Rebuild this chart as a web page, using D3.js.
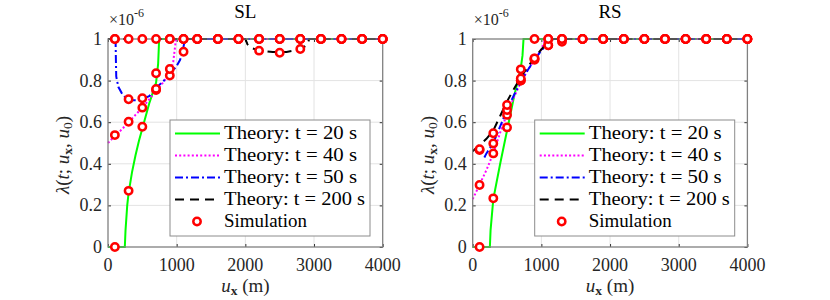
<!DOCTYPE html>
<html>
<head>
<meta charset="utf-8">
<script src="https://cdn.jsdelivr.net/npm/d3@7"></script>
<style>
  body { margin: 0; background: #fff; }
</style>
</head>
<body>
<script>
// values are in units of 1e-6
const uSim = [100, 300, 500, 700, 900, 1100, 1300, 1600, 1900, 2200, 2500, 2800, 3100, 3400, 3700, 4000];

// SL panel
const slSim20  = [0, 0.27, 0.578, 0.835, 1, 1, 1, 1, 1, 1, 1, 1, 1, 1, 1, 1];
const slSim40  = [0.538, 0.602, 0.67, 0.755, 0.824, 1, 1, 1, 1, 1, 1, 1, 1, 1, 1, 1];
const slSim50  = [1, 0.71, 0.715, 0.76, 0.856, 0.939, 1, 1, 1, 1, 1, 1, 1, 1, 1, 1];
const slSim200 = [1, 1, 1, 1, 1, 1, 1, 1, 1, 0.944, 0.934, 0.952, 1, 1, 1, 1];

const slU20  = [0, 245, 255, 280, 300, 350, 400, 450, 500, 550, 600, 650, 700, 730, 745, 4000];
const slL20  = [0, 0, 0.08, 0.2, 0.26, 0.36, 0.44, 0.51, 0.57, 0.63, 0.69, 0.74, 0.79, 0.88, 1, 1];
const slU40  = [0, 100, 200, 300, 400, 500, 600, 700, 800, 900, 950, 990, 4000];
const slL40  = [0.5, 0.535, 0.565, 0.6, 0.635, 0.67, 0.71, 0.75, 0.79, 0.835, 0.89, 1, 1];
const slU50  = [110, 115, 120, 150, 200, 250, 320, 450, 600, 700, 800, 900, 1000, 1050, 1090, 1120, 4000];
const slL50  = [1, 0.9, 0.82, 0.77, 0.74, 0.72, 0.705, 0.705, 0.725, 0.765, 0.795, 0.83, 0.87, 0.9, 0.945, 1, 1];
const slU200 = [0, 2000, 2030, 2100, 2200, 2400, 2600, 2800, 2900, 2930, 4000];
const slL200 = [1, 1, 0.975, 0.955, 0.945, 0.937, 0.938, 0.95, 0.972, 1, 1];

// RS panel
const rsSim20  = [0, 0.234, 0.575, 0.854, 1, 1, 1, 1, 1, 1, 1, 1, 1, 1, 1, 1];
const rsSim40  = [0.298, 0.45, 0.635, 0.8, 0.9, 0.97, 0.987, 1, 1, 1, 1, 1, 1, 1, 1, 1];
const rsSim50  = [0.466, 0.498, 0.659, 0.8, 0.905, 0.97, 1, 1, 1, 1, 1, 1, 1, 1, 1, 1];
const rsSim200 = [0.47, 0.547, 0.683, 0.81, 0.907, 1, 1, 1, 1, 1, 1, 1, 1, 1, 1, 1];

const rsU20  = [0, 250, 260, 300, 400, 500, 600, 700, 725, 740, 4000];
const rsL20  = [0, 0, 0.08, 0.23, 0.4, 0.56, 0.72, 0.86, 0.92, 1, 1];
const rsU40  = [0, 100, 200, 300, 400, 500, 600, 700, 800, 900, 1000, 1060, 4000];
const rsL40  = [0.23, 0.3, 0.37, 0.45, 0.55, 0.64, 0.72, 0.79, 0.85, 0.9, 0.95, 1, 1];
const rsU50  = [170, 200, 300, 400, 500, 600, 700, 800, 900, 1000, 1100, 1180, 4000];
const rsL50  = [0.43, 0.45, 0.5, 0.58, 0.66, 0.73, 0.795, 0.85, 0.9, 0.945, 0.98, 1, 1];
const rsU200 = [0, 100, 200, 300, 400, 500, 600, 700, 800, 900, 1000, 1100, 1180, 4000];
const rsL200 = [0.46, 0.49, 0.52, 0.56, 0.63, 0.7, 0.76, 0.815, 0.865, 0.91, 0.95, 0.985, 1, 1];

const xTicks = [0, 1000, 2000, 3000, 4000];
const yTicks = [0, 0.2, 0.4, 0.6, 0.8, 1];
const legendLabels = ["Theory: t = 20 s", "Theory: t = 40 s", "Theory: t = 50 s", "Theory: t = 200 s", "Simulation"];

const width = 830, height = 300;
const plotW = 274.7, plotTop = 39, plotBottom = 247;
const serif = "'Liberation Serif', 'Times New Roman', serif";

const styles = [
  { color: "#00ff00", dash: null },
  { color: "#ff00ff", dash: "2,2.2" },
  { color: "#0000ff", dash: "8,3,2,3" },
  { color: "#000000", dash: "9,6" }
];

const svg = d3.select("body").append("svg")
  .attr("width", width)
  .attr("height", height)
  .attr("viewBox", [0, 0, width, height])
  .style("font-family", serif);

function panel(left, title, lines, sims) {
  const x = d3.scaleLinear().domain([0, 4000]).range([left, left + plotW]);
  const y = d3.scaleLinear().domain([0, 1]).range([plotBottom, plotTop]);
  const g = svg.append("g");

  // grid
  g.append("g").selectAll("line").data(xTicks.slice(1, -1)).join("line")
    .attr("x1", d => x(d)).attr("x2", d => x(d))
    .attr("y1", plotTop).attr("y2", plotBottom)
    .attr("stroke", "#e3e3e3").attr("stroke-width", 1);
  g.append("g").selectAll("line").data(yTicks.slice(1, -1)).join("line")
    .attr("x1", left).attr("x2", left + plotW)
    .attr("y1", d => y(d)).attr("y2", d => y(d))
    .attr("stroke", "#e3e3e3").attr("stroke-width", 1);

  // tick marks, inside, on all four sides
  const tick = 3;
  const marks = (axis, tx, ty) => g.append("g").attr("transform", `translate(${tx},${ty})`)
    .call(axis.tickSize(-tick).tickSizeOuter(0).tickFormat(""))
    .call(a => a.select(".domain").remove())
    .call(a => a.selectAll(".tick line").attr("stroke", "#333"));
  marks(d3.axisBottom(x).tickValues(xTicks), 0, plotBottom);
  marks(d3.axisTop(x).tickValues(xTicks), 0, plotTop);
  marks(d3.axisLeft(y).tickValues(yTicks), left, 0);
  marks(d3.axisRight(y).tickValues(yTicks), left + plotW, 0);

  // tick labels
  g.append("g").selectAll("text").data(xTicks).join("text")
    .attr("x", d => x(d)).attr("y", 271)
    .attr("text-anchor", "middle")
    .style("font-size", "18px")
    .attr("fill", "#262626").text(d => d3.format("d")(d));
  g.append("g").selectAll("text").data(yTicks).join("text")
    .attr("x", left - 6).attr("y", d => y(d)).attr("dy", "0.33em")
    .attr("text-anchor", "end")
    .style("font-size", "18px")
    .attr("fill", "#262626").text(d => d3.format("~g")(d));

  // theory curves
  const line = d3.line().x(d => x(d[0])).y(d => y(d[1]));
  lines.forEach((ln, i) => {
    g.append("path")
      .datum(d3.zip(ln[0], ln[1]))
      .attr("d", line)
      .attr("fill", "none")
      .attr("stroke", styles[i].color)
      .attr("stroke-width", 2)
      .attr("stroke-dasharray", styles[i].dash);
  });

  // box
  g.append("rect")
    .attr("x", left).attr("y", plotTop)
    .attr("width", plotW).attr("height", plotBottom - plotTop)
    .attr("fill", "none").attr("stroke", "#808080").attr("stroke-width", 1.3);

  // simulation markers
  sims.forEach(s => {
    g.append("g").selectAll("circle").data(d3.zip(uSim, s)).join("circle")
      .attr("cx", d => x(d[0])).attr("cy", d => y(d[1])).attr("r", 3.7)
      .attr("fill", "white").attr("stroke", "#ff0000").attr("stroke-width", 2.5);
  });

  // title and exponent
  g.append("text").attr("x", left + plotW / 2).attr("y", 18)
    .attr("text-anchor", "middle").style("font-size", "19px").attr("fill", "#000").text(title);
  const ex = g.append("text").attr("x", left + 1).attr("y", 25).style("font-size", "16px").attr("fill", "#262626");
  ex.append("tspan").text("×10");
  ex.append("tspan").style("font-size", "12px").attr("dy", -8).text("-6");

  // axis labels
  const xl = g.append("text").attr("x", left + plotW / 2).attr("y", 292)
    .attr("text-anchor", "middle").style("font-size", "19px").attr("fill", "#262626");
  xl.append("tspan").attr("font-style", "italic").text("u");
  xl.append("tspan").attr("font-weight", "bold").style("font-size", "13.5px").attr("dy", 3).text("x");
  xl.append("tspan").attr("dy", -3).text(" (m)");

  const yl = g.append("text").attr("transform", `translate(${left - 39},155) rotate(-90)`)
    .attr("text-anchor", "middle").style("font-size", "19px").attr("fill", "#262626");
  yl.append("tspan").attr("font-style", "italic").text("λ");
  yl.append("tspan").text("(");
  yl.append("tspan").attr("font-style", "italic").text("t");
  yl.append("tspan").text("; ");
  yl.append("tspan").attr("font-style", "italic").text("u");
  yl.append("tspan").attr("font-weight", "bold").style("font-size", "13.5px").attr("dy", 3).text("x");
  yl.append("tspan").attr("dy", -3).text(", ");
  yl.append("tspan").attr("font-style", "italic").text("u");
  yl.append("tspan").style("font-size", "13.5px").attr("dy", 3).text("0");
  yl.append("tspan").attr("dy", -3).text(")");

  // legend
  const lx = left + 62, ly = 120;
  const textW = [133, 133, 133, 141, 83];
  const lg = g.append("g");
  lg.append("rect").attr("x", lx).attr("y", ly).attr("width", 200).attr("height", 116)
    .attr("fill", "white").attr("stroke", "#8c8c8c").attr("stroke-width", 1);
  const rowY = i => ly + 13.5 + i * 22;
  legendLabels.forEach((lab, i) => {
    if (i < 4) {
      lg.append("line").attr("x1", lx + 5).attr("x2", lx + 50)
        .attr("y1", rowY(i)).attr("y2", rowY(i))
        .attr("stroke", styles[i].color).attr("stroke-width", 2)
        .attr("stroke-dasharray", styles[i].dash);
    } else {
      lg.append("circle").attr("cx", lx + 27).attr("cy", rowY(i)).attr("r", 3.7)
        .attr("fill", "white").attr("stroke", "#ff0000").attr("stroke-width", 2.5);
    }
    lg.append("text").attr("x", lx + 54).attr("y", rowY(i) + 5.5)
      .style("font-size", "18.5px").attr("fill", "#000")
      .attr("textLength", textW[i]).attr("lengthAdjust", "spacingAndGlyphs")
      .text(lab);
  });
}

panel(108, "SL",
  [[slU20, slL20], [slU40, slL40], [slU50, slL50], [slU200, slL200]],
  [slSim20, slSim40, slSim50, slSim200]);
panel(472.7, "RS",
  [[rsU20, rsL20], [rsU40, rsL40], [rsU50, rsL50], [rsU200, rsL200]],
  [rsSim20, rsSim40, rsSim50, rsSim200]);
</script>
</body>
</html>
